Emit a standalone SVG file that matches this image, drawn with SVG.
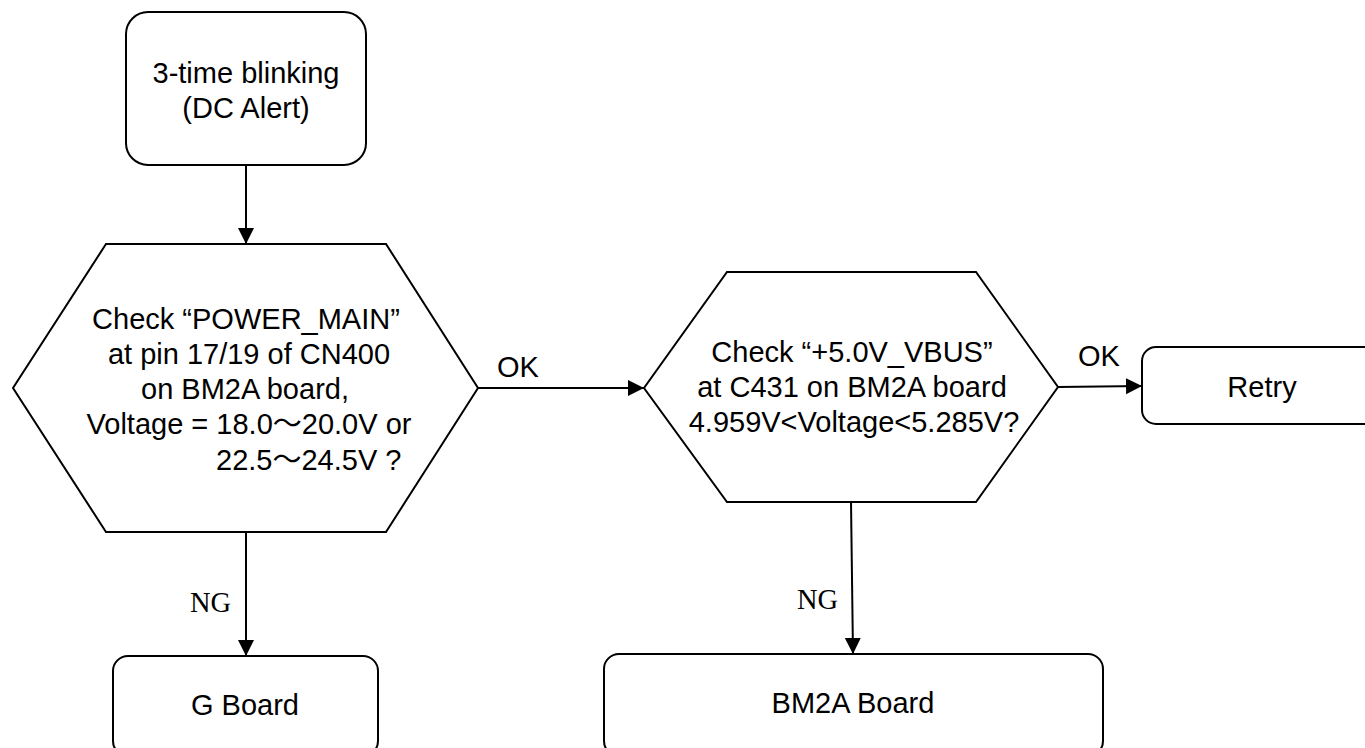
<svg xmlns="http://www.w3.org/2000/svg" width="1365" height="748" viewBox="0 0 1365 748">
<style>
.shape{fill:#fff;stroke:#000;stroke-width:2}
.t{font-family:"Liberation Sans","Noto Sans CJK JP",Arial,sans-serif;font-size:29px;fill:#000}
.c{text-anchor:middle}
.ng{font-family:"Liberation Serif","Times New Roman",serif;font-size:28.5px;fill:#000}
.edge{fill:none;stroke:#000;stroke-width:2}
</style>
<defs>
<marker id="ah" markerUnits="userSpaceOnUse" markerWidth="18" markerHeight="18" refX="16" refY="8.5" orient="auto">
<path d="M0,0.5 L16,8.5 L0,16.5 Z" fill="#000"/>
</marker>
</defs>
<rect width="1365" height="748" fill="#fff"/>
<g id="n_start">
<rect class="shape" x="126" y="12" width="240" height="153" rx="22" ry="22"/>
<text class="t c" x="246" y="83">3-time blinking</text>
<text class="t c" x="246" y="118">(DC Alert)</text>
</g>
<g id="n_check1">
<polygon class="shape" points="106,244 386,244 478,388 386,532 106,532 13,388"/>
<text class="t c" x="246" y="329">Check “POWER_MAIN”</text>
<text class="t c" x="249" y="364">at pin 17/19 of CN400</text>
<text class="t c" x="245" y="399">on BM2A board,</text>
<text class="t c" x="249" y="434">Voltage = 18.0～20.0V or</text>
<text class="t" x="216" y="470">22.5～24.5V ?</text>
</g>
<g id="n_check2">
<polygon class="shape" points="727,272 976,272 1058,387 976,502 727,502 644,388"/>
<text class="t c" x="852" y="362">Check “+5.0V_VBUS”</text>
<text class="t c" x="852" y="397">at C431 on BM2A board</text>
<text class="t c" x="854" y="432">4.959V&lt;Voltage&lt;5.285V?</text>
</g>
<g id="n_retry">
<rect class="shape" x="1142" y="347" width="241" height="77" rx="14" ry="14"/>
<text class="t c" x="1262" y="397">Retry</text>
</g>
<g id="n_gboard">
<rect class="shape" x="113" y="656" width="265" height="100" rx="15" ry="15"/>
<text class="t c" x="245" y="715">G Board</text>
</g>
<g id="n_bm2a">
<rect class="shape" x="604" y="654" width="499" height="102" rx="15" ry="15"/>
<text class="t c" x="853" y="713">BM2A Board</text>
</g>
<g id="connectors">
<line class="edge" x1="246" y1="165" x2="246" y2="244" marker-end="url(#ah)"/>
<line class="edge" x1="478" y1="388" x2="644" y2="388" marker-end="url(#ah)"/>
<line class="edge" x1="1058" y1="387" x2="1142" y2="386" marker-end="url(#ah)"/>
<line class="edge" x1="246" y1="532" x2="246" y2="656" marker-end="url(#ah)"/>
<line class="edge" x1="851" y1="502" x2="853" y2="654" marker-end="url(#ah)"/>
<text class="t" x="497" y="377">OK</text>
<text class="t" x="1078" y="366">OK</text>
<text class="ng" x="190" y="612">NG</text>
<text class="ng" x="797" y="609">NG</text>
</g>
</svg>
